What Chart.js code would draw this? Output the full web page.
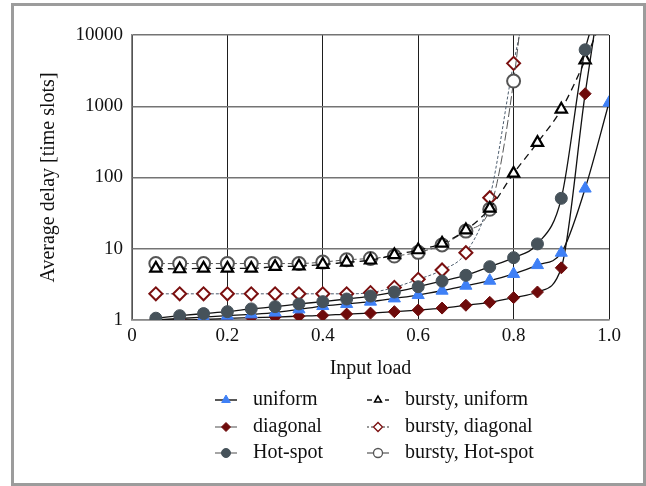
<!DOCTYPE html>
<html>
<head>
<meta charset="utf-8">
<script src="https://cdn.jsdelivr.net/npm/chart.js@4.4.1/dist/chart.umd.min.js"></script>
<style>
  html, body { margin: 0; padding: 0; background: #fff; }
  #wrap { position: relative; width: 646px; height: 486px; }
  #frame { position: absolute; left: 11px; top: 3px; width: 635px; height: 483px; border: 3px solid #9c9c9c; box-sizing: border-box; pointer-events: none; }
  canvas { position: absolute; left: 0; top: 0; }
</style>
</head>
<body>
<div id="wrap">
  <canvas id="delayChart" width="646" height="486"></canvas>
  <div id="frame"></div>
</div>
<script>
// input load (x) for every measured point
const loads = [0.05, 0.1, 0.15, 0.2, 0.25, 0.3, 0.35, 0.4, 0.45, 0.5,
               0.55, 0.6, 0.65, 0.7, 0.75, 0.8, 0.85, 0.9, 0.95, 1.0];

// average delay [time slots]; values above 10000 only continue the curve off the top
const uniform        = [1.0, 1.05, 1.1, 1.15, 1.2, 1.27, 1.41, 1.57, 1.68, 1.81,
                        2.01, 2.24, 2.58, 3.03, 3.56, 4.43, 5.9, 8.8, 70, 1120];
const diagonal       = [1.0, 1.0, 1.02, 1.05, 1.08, 1.1, 1.13, 1.16, 1.21, 1.25,
                        1.31, 1.38, 1.47, 1.61, 1.77, 2.06, 2.47, 5.4, 1500, 250000];
const hotSpot        = [1.06, 1.15, 1.23, 1.31, 1.43, 1.54, 1.68, 1.81, 1.97, 2.17,
                        2.47, 2.93, 3.52, 4.24, 5.6, 7.5, 11.7, 51, 6200, 40000];
const burstyUniform  = [5.3, 5.2, 5.3, 5.3, 5.3, 5.6, 5.7, 6.0, 6.45, 6.9,
                        8.2, 9.6, 11.9, 18.3, 36.9, 114, 309, 906, 4450, 30000];
const burstyDiagonal = [2.33, 2.33, 2.33, 2.33, 2.33, 2.33, 2.33, 2.33, 2.33, 2.42,
                        2.87, 3.72, 5.03, 8.8, 52, 4000, 130000, null, null, null];
const burstyHotSpot  = [6.2, 6.2, 6.2, 6.2, 6.2, 6.2, 6.2, 6.5, 7.0, 7.3,
                        7.9, 8.9, 11.3, 17.7, 35.8, 2260, 3000000, null, null, null];

const yTicks = [1, 10, 100, 1000, 10000];
const xTickLabels = ['0', '0.2', '0.4', '0.6', '0.8', '1.0'];

const legendColX = [215, 367];
const legendRowY = [400, 427, 453];

function toPoints(values) {
    return loads.map((x, i) => ({ x: x, y: values[i] }));
}

function hideOffChart(r) {
    return ctx => (ctx.raw && ctx.raw.y > 10000) ? 0 : r;
}

Chart.defaults.font.family = "'Liberation Serif', 'DejaVu Serif', serif";
Chart.defaults.color = '#111';

// draws the two-column legend under the axis title
const legendPlugin = {
    id: 'twoColLegend',
    afterDraw(chart) {
        const ctx = chart.ctx;
        chart.data.datasets.forEach(ds => {
            const x0 = legendColX[ds.legendPos[0]];
            const y = legendRowY[ds.legendPos[1]];
            ctx.save();
            ctx.strokeStyle = ds.legendLine;
            ctx.lineWidth = 1.5;
            ctx.setLineDash(ds.legendDash || []);
            ctx.beginPath();
            ctx.moveTo(x0, y);
            ctx.lineTo(x0 + 22, y);
            ctx.stroke();
            ctx.setLineDash([]);
            ctx.fillStyle = ds.pointBackgroundColor;
            ctx.strokeStyle = ds.pointBorderColor;
            ctx.lineWidth = ds.legendBorder;
            Chart.helpers.drawPoint(ctx, {
                pointStyle: ds.pointStyle,
                radius: ds.legendRadius,
                rotation: 0,
                borderWidth: ds.legendBorder
            }, x0 + 11, y);
            ctx.fillStyle = '#111';
            ctx.font = "20px 'Liberation Serif'";
            ctx.textBaseline = 'middle';
            ctx.fillText(ds.label, x0 + 38, y);
            ctx.restore();
        });
    }
};

const ctx = document.getElementById('delayChart').getContext('2d');

new Chart(ctx, {
    type: 'line',
    data: {
        datasets: [
            {
                label: 'Hot-spot',
                data: toPoints(hotSpot),
                borderColor: '#111',
                borderWidth: 1.3,
                pointStyle: 'circle',
                pointRadius: hideOffChart(6),
                pointBackgroundColor: '#46525a',
                pointBorderColor: '#46525a',
                pointBorderWidth: 1,
                legendPos: [0, 2], legendLine: '#888', legendRadius: 4.5, legendBorder: 1
            },
            {
                label: 'uniform',
                data: toPoints(uniform),
                borderColor: '#111',
                borderWidth: 1.3,
                pointStyle: 'triangle',
                pointRadius: hideOffChart(7),
                pointBackgroundColor: '#3f80f6',
                pointBorderColor: '#3f80f6',
                pointBorderWidth: 1,
                legendPos: [0, 0], legendLine: '#222', legendRadius: 5, legendBorder: 1
            },
            {
                label: 'diagonal',
                data: toPoints(diagonal),
                borderColor: '#111',
                borderWidth: 1.3,
                pointStyle: 'rectRot',
                pointRadius: hideOffChart(6),
                pointBackgroundColor: '#6e0b0b',
                pointBorderColor: '#6e0b0b',
                pointBorderWidth: 1,
                legendPos: [0, 1], legendLine: '#888', legendRadius: 4.5, legendBorder: 1
            },
            {
                label: 'bursty, uniform',
                data: toPoints(burstyUniform),
                borderColor: '#111',
                borderWidth: 1.3,
                borderDash: [7, 5],
                pointStyle: 'triangle',
                pointRadius: hideOffChart(6.5),
                pointBackgroundColor: '#fff',
                pointBorderColor: '#000',
                pointBorderWidth: 2.2,
                legendPos: [1, 0], legendLine: '#222', legendDash: [5, 4], legendRadius: 4, legendBorder: 1.5
            },
            {
                label: 'bursty, Hot-spot',
                data: toPoints(burstyHotSpot),
                borderColor: '#555',
                borderWidth: 1,
                borderDash: [9, 3],
                pointStyle: 'circle',
                pointRadius: hideOffChart(6.5),
                pointBackgroundColor: '#fff',
                pointBorderColor: '#555',
                pointBorderWidth: 2,
                legendPos: [1, 2], legendLine: '#777', legendRadius: 4.5, legendBorder: 1.3
            },
            {
                label: 'bursty, diagonal',
                data: toPoints(burstyDiagonal),
                borderColor: '#4d5d6e',
                borderWidth: 1,
                borderDash: [3, 2],
                pointStyle: 'rectRot',
                pointRadius: hideOffChart(6.5),
                pointBackgroundColor: '#fff',
                pointBorderColor: '#7a0f0f',
                pointBorderWidth: 2,
                legendPos: [1, 1], legendLine: '#777', legendDash: [2, 2], legendRadius: 4.5, legendBorder: 1.3
            }
        ]
    },
    options: {
        responsive: false,
        animation: false,
        spanGaps: false,
        cubicInterpolationMode: 'monotone',
        layout: { padding: { top: 35, right: 37, bottom: 105, left: 0 } },
        plugins: {
            legend: { display: false },
            tooltip: { enabled: false }
        },
        scales: {
            x: {
                type: 'linear',
                min: 0,
                max: 1,
                afterBuildTicks: scale => {
                    scale.ticks = xTickLabels.map(t => ({ value: parseFloat(t) }));
                },
                afterFit: scale => { scale.height = 61; },
                ticks: {
                    font: { size: 19 },
                    padding: 5,
                    maxRotation: 0,
                    callback: (v, i) => xTickLabels[i]
                },
                grid: { color: '#1e1e1e', lineWidth: 1, drawTicks: false },
                border: { color: '#888', width: 1.5 },
                title: {
                    display: true,
                    text: 'Input load',
                    font: { size: 20 },
                    padding: { top: 0, bottom: 0 }
                }
            },
            y: {
                type: 'logarithmic',
                min: 1,
                max: 10000,
                afterBuildTicks: scale => {
                    scale.ticks = yTicks.map(v => ({ value: v }));
                },
                afterFit: scale => { scale.width = 132; },
                ticks: {
                    font: { size: 19 },
                    padding: 9,
                    callback: v => String(v)
                },
                grid: { color: '#747474', lineWidth: 1.5, drawTicks: false },
                border: { color: '#888', width: 1.5 },
                title: {
                    display: true,
                    text: 'Average delay [time slots]',
                    font: { size: 20 },
                    padding: { top: 37, bottom: 0 }
                }
            }
        }
    },
    plugins: [legendPlugin]
});
</script>
</body>
</html>
